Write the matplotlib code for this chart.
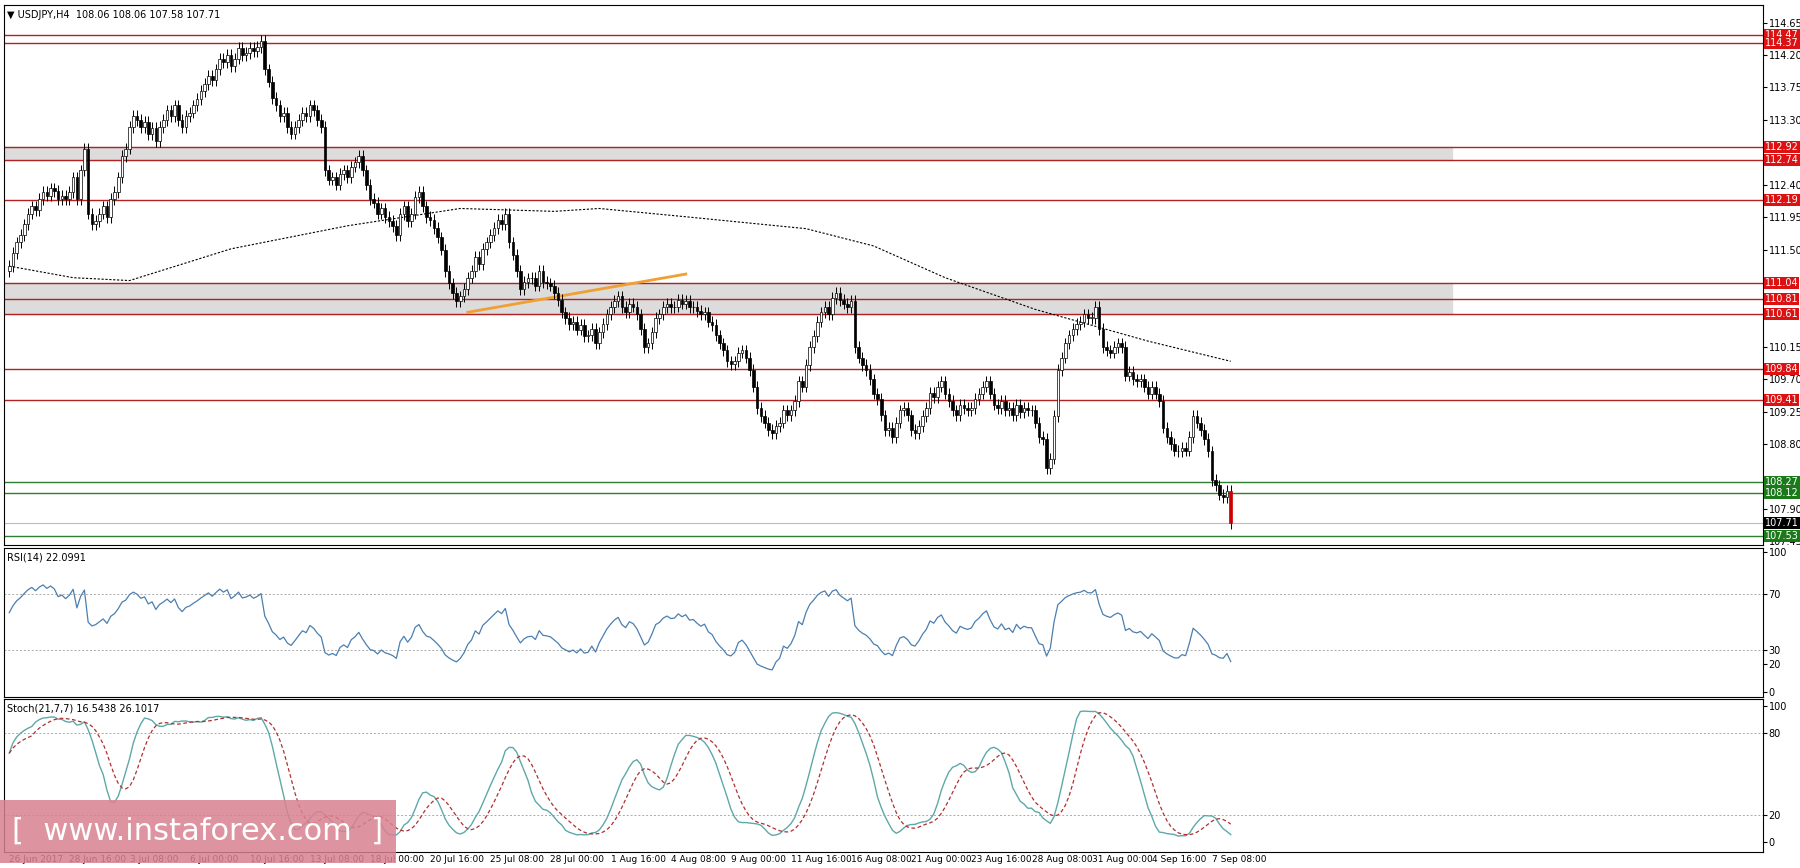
import numpy as np
import pandas as pd
import matplotlib
matplotlib.use("Agg")
import matplotlib.pyplot as plt
from matplotlib.patches import Rectangle

closes = [
111.27,111.45,111.6,111.7,111.85,112.0,112.1,112.05,112.2,112.3,112.25,112.35,112.31,112.2,112.25,112.2,
112.3,112.5,112.2,112.6,112.9,112.0,111.85,111.9,112.0,112.1,111.95,112.2,112.3,112.5,112.8,112.9,
113.2,113.35,113.3,113.2,113.27,113.1,113.19,113.0,113.2,113.3,113.43,113.35,113.5,113.3,113.2,113.35,
113.4,113.5,113.59,113.7,113.8,113.91,113.85,114.0,114.15,114.1,114.2,114.05,114.15,114.3,114.2,114.23,
114.3,114.25,114.31,114.4,114.0,113.83,113.6,113.5,113.35,113.4,113.2,113.11,113.2,113.3,113.4,113.35,
113.5,113.43,113.3,113.2,112.6,112.47,112.5,112.4,112.55,112.6,112.5,112.65,112.71,112.8,112.6,112.4,
112.2,112.15,112.0,112.07,111.95,111.9,111.83,111.7,111.99,112.1,111.9,112.0,112.23,112.3,112.1,111.95,
111.91,111.8,111.67,111.5,111.2,111.03,110.9,110.79,110.85,110.95,111.11,111.2,111.4,111.3,111.51,111.6,
111.7,111.8,111.91,111.85,112.0,111.6,111.43,111.2,110.95,111.05,111.1,111.11,111.0,111.2,111.05,111.03,
111.0,110.9,110.8,110.63,110.55,110.47,110.5,110.39,110.45,110.3,110.31,110.4,110.2,110.35,110.47,110.6,
110.7,110.79,110.85,110.7,110.63,110.75,110.71,110.6,110.4,110.15,110.2,110.35,110.55,110.6,110.7,110.75,
110.7,110.71,110.8,110.75,110.79,110.7,110.71,110.65,110.6,110.63,110.5,110.45,110.31,110.2,110.1,109.95,
109.91,109.95,110.07,110.1,110.0,109.83,109.6,109.3,109.19,109.1,109.0,108.95,109.05,109.1,109.27,109.2,
109.27,109.4,109.67,109.6,109.9,110.15,110.3,110.5,110.63,110.7,110.6,110.83,110.9,110.8,110.75,110.7,
110.79,110.15,110.0,109.9,109.83,109.7,109.5,109.43,109.2,109.0,109.03,108.9,109.1,109.27,109.3,109.2,
109.0,108.95,109.05,109.19,109.3,109.51,109.45,109.6,109.67,109.5,109.4,109.27,109.2,109.35,109.3,109.27,
109.3,109.43,109.5,109.6,109.67,109.5,109.35,109.3,109.4,109.27,109.3,109.2,109.35,109.25,109.3,109.27,
109.27,109.1,108.9,108.87,108.47,108.6,109.19,109.83,110.0,110.2,110.31,110.4,110.47,110.5,110.6,110.55,
110.55,110.7,110.4,110.15,110.1,110.07,110.15,110.2,110.15,109.75,109.8,109.7,109.67,109.7,109.6,109.5,
109.59,109.5,109.4,109.03,108.9,108.8,108.71,108.7,108.75,108.71,108.9,109.19,109.1,109.0,108.87,108.7,
108.3,108.23,108.1,108.07,108.15,107.71]
first_open = 111.2

ma_idx = [0,17,32,59,90,120,145,157,181,212,230,249,273,303,325]
ma_val = [111.27,111.11,111.07,111.51,111.83,112.07,112.03,112.07,111.95,111.79,111.55,111.11,110.67,110.23,109.95]

trend_idx = [122,180]
trend_val = [110.63,111.16]

red_levels = [114.47,114.37,112.92,112.74,112.19,111.04,110.81,110.61,109.84,109.41]
green_levels = [108.27,108.12,107.53]
bands = [(112.74,112.92),(110.61,111.04)]
price_ticks = [114.65,114.20,113.75,113.30,112.40,111.95,111.50,110.15,109.70,109.25,108.80,107.90,107.45]

date_labels = ["26 Jun 2017","28 Jun 16:00","3 Jul 08:00","6 Jul 00:00","10 Jul 16:00","13 Jul 08:00",
"18 Jul 00:00","20 Jul 16:00","25 Jul 08:00","28 Jul 00:00","1 Aug 16:00","4 Aug 08:00","9 Aug 00:00",
"11 Aug 16:00","16 Aug 08:00","21 Aug 00:00","23 Aug 16:00","28 Aug 08:00","31 Aug 00:00","4 Sep 16:00","7 Sep 08:00"]

c = np.array(closes)
o = np.concatenate([[first_open], c[:-1]])
wick = 0.08
h = np.maximum(o, c) + wick
l = np.minimum(o, c) - wick
n = len(c)
x = np.arange(n)

# RSI(14), Wilder smoothing with a neutral seed
d = np.diff(np.concatenate([[first_open], c]))
au, ad = 0.06, 0.05
rsi = []
for v in d:
    au = (au*13 + max(v, 0))/14
    ad = (ad*13 + max(-v, 0))/14
    rsi.append(100 - 100/(1 + au/ad))
rsi = np.array(rsi)

s = pd.Series(c)
hh = pd.Series(h).rolling(21, min_periods=1).max()
ll = pd.Series(l).rolling(21, min_periods=1).min()
raw = 100*(s-ll)/(hh-ll)
k = raw.rolling(7, min_periods=1).mean()
dsig = k.rolling(7, min_periods=1).mean()

fs = 7
fig = plt.figure(figsize=(18, 8.68), dpi=100)
L, R = 0.002, 0.9794
ax = fig.add_axes([L, 0.372, R-L, 0.622])
ax2 = fig.add_axes([L, 0.197, R-L, 0.172], sharex=ax)
ax3 = fig.add_axes([L, 0.018, R-L, 0.177], sharex=ax)
xl = (-1.5, 466.6)

for a in (ax, ax2, ax3):
    a.yaxis.tick_right()
    a.tick_params(axis='y', labelsize=fs, length=3, pad=1)
    a.tick_params(axis='x', length=0)
    for sp in a.spines.values():
        sp.set_linewidth(0.8)

ax.set_xlim(*xl)
ax.set_ylim(107.40, 114.89)
for lo, hi in bands:
    ax.add_patch(Rectangle((xl[0], lo), 384 - xl[0], hi-lo, color='#dcdcdc', zorder=0))
for lv in red_levels:
    ax.axhline(lv, color='#b22222', lw=1.0, zorder=1)
for lv in green_levels:
    ax.axhline(lv, color='#2e7d32', lw=1.0, zorder=1)
ax.axhline(c[-1], color='#bbbbbb', lw=0.8, zorder=1)
ax.plot(ma_idx, ma_val, color='black', lw=0.8, ls=(0, (2, 1.5)), zorder=2)
ax.plot(trend_idx, trend_val, color='#f0a030', lw=2, zorder=3)
ax.vlines(x, l, h, color='black', lw=0.7, zorder=4)
for i in range(n):
    lo_, hi_ = min(o[i], c[i]), max(o[i], c[i])
    bull = c[i] >= o[i]
    fc = 'white' if bull else 'black'
    if i == n-1:
        fc = '#cc0000'
    ax.add_patch(Rectangle((x[i]-0.35, lo_), 0.7, max(hi_-lo_, 0.01), facecolor=fc,
                           edgecolor='black' if i < n-1 else '#cc0000', lw=0.5, zorder=5))
ax.set_yticks(price_ticks)
ax.set_yticklabels([f"{t:.2f}" for t in price_ticks])
tr = ax.get_yaxis_transform()
def tag(lv, color):
    ax.text(1.001, lv, f"{lv:.2f}", transform=tr, fontsize=fs, color='white', va='center',
            ha='left', bbox=dict(boxstyle='square,pad=0.12', fc=color, ec='none'))
for lv in red_levels:
    tag(lv, '#dd1111')
for lv in green_levels:
    tag(lv, '#1a7a1a')
tag(c[-1], 'black')
ax.text(0.002, 0.992, "\u25bc USDJPY,H4  108.06 108.06 107.58 107.71", transform=ax.transAxes,
        fontsize=fs, va='top')

ax2.set_ylim(-3.5, 103)
for lv in (70, 30):
    ax2.axhline(lv, color='#aaaaaa', lw=0.7, ls=(0, (2, 2)))
ax2.plot(x, rsi, color='#4a7fb0', lw=0.9)
ax2.set_yticks([100, 70, 30, 20, 0])
ax2.text(0.002, 0.97, "RSI(14) 22.0991", transform=ax2.transAxes, fontsize=fs, va='top')

ax3.set_ylim(-7.4, 105.1)
for lv in (80, 20):
    ax3.axhline(lv, color='#aaaaaa', lw=0.7, ls=(0, (2, 2)))
ax3.plot(x, k, color='#5fa8a8', lw=1.0)
ax3.plot(x, dsig, color='#b03030', lw=0.9, ls=(0, (3, 2)))
ax3.set_yticks([100, 80, 20, 0])
ax3.text(0.002, 0.97, "Stoch(21,7,7) 16.5438 26.1017", transform=ax3.transAxes, fontsize=fs, va='top')

plt.setp(ax.get_xticklabels(), visible=False)
plt.setp(ax2.get_xticklabels(), visible=False)
ax3.set_xticks([16*i for i in range(len(date_labels))])
ax3.set_xticklabels(date_labels, fontsize=6.5, ha='left')
ax3.tick_params(axis='x', pad=2)

fig.patches.append(Rectangle((0, 0.006), 0.22, 0.072, transform=fig.transFigure,
                             facecolor='#d9828f', alpha=0.85, edgecolor='none', zorder=10))
fig.text(0.11, 0.042, "[  www.instaforex.com  ]", color='white', fontsize=22,
         ha='center', va='center', zorder=11)

fig.savefig("out.png", dpi=100)
